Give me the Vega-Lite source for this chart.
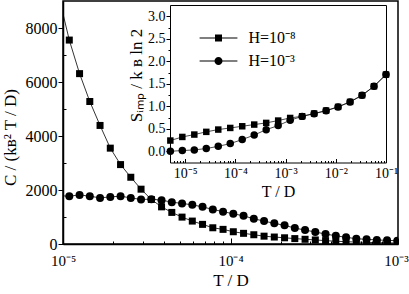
{
  "$schema": "https://vega.github.io/schema/vega-lite/v6.json",
  "width": 335,
  "height": 243,
  "autosize": "none",
  "padding": {"left": 63, "top": 1, "right": 11, "bottom": 50},
  "config": {
    "font": "Liberation Serif",
    "view": {"stroke": "black", "strokeWidth": 1.5},
    "axis": {"grid": false, "domainColor": "black", "tickColor": "black", "labelColor": "black", "titleColor": "black", "titleFontWeight": "normal", "labelOverlap": false, "labelFlush": false, "labelBound": false, "labelFont": "Liberation Serif", "titleFont": "Liberation Serif"},
    "legend": {"labelFont": "Liberation Serif"}
  },
  "datasets": {
    "main": [
      {"T": 9.471e-6, "C": 9136, "H": "H=10⁻⁸"},
      {"T": 1.0904e-5, "C": 7553, "H": "H=10⁻⁸"},
      {"T": 1.2557e-5, "C": 6310, "H": "H=10⁻⁸"},
      {"T": 1.4454e-5, "C": 5277, "H": "H=10⁻⁸"},
      {"T": 1.6641e-5, "C": 4391, "H": "H=10⁻⁸"},
      {"T": 1.9159e-5, "C": 3550, "H": "H=10⁻⁸"},
      {"T": 2.2058e-5, "C": 2941, "H": "H=10⁻⁸"},
      {"T": 2.5396e-5, "C": 2472, "H": "H=10⁻⁸"},
      {"T": 2.924e-5, "C": 2030, "H": "H=10⁻⁸"},
      {"T": 3.3664e-5, "C": 1649, "H": "H=10⁻⁸"},
      {"T": 3.8758e-5, "C": 1376, "H": "H=10⁻⁸"},
      {"T": 4.4619e-5, "C": 1170, "H": "H=10⁻⁸"},
      {"T": 5.1372e-5, "C": 996, "H": "H=10⁻⁸"},
      {"T": 5.9147e-5, "C": 849, "H": "H=10⁻⁸"},
      {"T": 6.8098e-5, "C": 727, "H": "H=10⁻⁸"},
      {"T": 7.8404e-5, "C": 601, "H": "H=10⁻⁸"},
      {"T": 9.027e-5, "C": 542, "H": "H=10⁻⁸"},
      {"T": 1.0393e-4, "C": 454, "H": "H=10⁻⁸"},
      {"T": 1.1966e-4, "C": 395, "H": "H=10⁻⁸"},
      {"T": 1.3777e-4, "C": 343, "H": "H=10⁻⁸"},
      {"T": 1.5862e-4, "C": 290, "H": "H=10⁻⁸"},
      {"T": 1.8262e-4, "C": 258, "H": "H=10⁻⁸"},
      {"T": 2.1026e-4, "C": 230, "H": "H=10⁻⁸"},
      {"T": 2.4208e-4, "C": 200, "H": "H=10⁻⁸"},
      {"T": 2.7872e-4, "C": 175, "H": "H=10⁻⁸"},
      {"T": 3.209e-4, "C": 150, "H": "H=10⁻⁸"},
      {"T": 3.6946e-4, "C": 125, "H": "H=10⁻⁸"},
      {"T": 4.2537e-4, "C": 103, "H": "H=10⁻⁸"},
      {"T": 4.8975e-4, "C": 85, "H": "H=10⁻⁸"},
      {"T": 5.6387e-4, "C": 72, "H": "H=10⁻⁸"},
      {"T": 6.492e-4, "C": 60, "H": "H=10⁻⁸"},
      {"T": 7.4745e-4, "C": 50, "H": "H=10⁻⁸"},
      {"T": 8.6058e-4, "C": 42, "H": "H=10⁻⁸"},
      {"T": 9.9038e-4, "C": 36, "H": "H=10⁻⁸"},
      {"T": 9.471e-6, "C": 1790, "H": "H=10⁻³"},
      {"T": 1.0904e-5, "C": 1771, "H": "H=10⁻³"},
      {"T": 1.2557e-5, "C": 1819, "H": "H=10⁻³"},
      {"T": 1.4454e-5, "C": 1771, "H": "H=10⁻³"},
      {"T": 1.6641e-5, "C": 1708, "H": "H=10⁻³"},
      {"T": 1.9159e-5, "C": 1745, "H": "H=10⁻³"},
      {"T": 2.2058e-5, "C": 1771, "H": "H=10⁻³"},
      {"T": 2.5396e-5, "C": 1708, "H": "H=10⁻³"},
      {"T": 2.924e-5, "C": 1649, "H": "H=10⁻³"},
      {"T": 3.3664e-5, "C": 1661, "H": "H=10⁻³"},
      {"T": 3.8758e-5, "C": 1624, "H": "H=10⁻³"},
      {"T": 4.4619e-5, "C": 1550, "H": "H=10⁻³"},
      {"T": 5.1372e-5, "C": 1502, "H": "H=10⁻³"},
      {"T": 5.9147e-5, "C": 1450, "H": "H=10⁻³"},
      {"T": 6.8098e-5, "C": 1376, "H": "H=10⁻³"},
      {"T": 7.8404e-5, "C": 1280, "H": "H=10⁻³"},
      {"T": 9.027e-5, "C": 1199, "H": "H=10⁻³"},
      {"T": 1.0393e-4, "C": 1118, "H": "H=10⁻³"},
      {"T": 1.1966e-4, "C": 1044, "H": "H=10⁻³"},
      {"T": 1.3777e-4, "C": 934, "H": "H=10⁻³"},
      {"T": 1.5862e-4, "C": 849, "H": "H=10⁻³"},
      {"T": 1.8262e-4, "C": 764, "H": "H=10⁻³"},
      {"T": 2.1026e-4, "C": 690, "H": "H=10⁻³"},
      {"T": 2.4208e-4, "C": 590, "H": "H=10⁻³"},
      {"T": 2.7872e-4, "C": 517, "H": "H=10⁻³"},
      {"T": 3.209e-4, "C": 443, "H": "H=10⁻³"},
      {"T": 3.6946e-4, "C": 369, "H": "H=10⁻³"},
      {"T": 4.2537e-4, "C": 306, "H": "H=10⁻³"},
      {"T": 4.8975e-4, "C": 247, "H": "H=10⁻³"},
      {"T": 5.6387e-4, "C": 196, "H": "H=10⁻³"},
      {"T": 6.492e-4, "C": 173, "H": "H=10⁻³"},
      {"T": 7.4745e-4, "C": 150, "H": "H=10⁻³"},
      {"T": 8.6058e-4, "C": 135, "H": "H=10⁻³"},
      {"T": 9.9038e-4, "C": 122, "H": "H=10⁻³"}
    ],
    "inset": [
      {"T": 5.0805e-6, "S": 0.238, "H": "H=10⁻⁸"},
      {"T": 8.7998e-6, "S": 0.318, "H": "H=10⁻⁸"},
      {"T": 1.5242e-5, "S": 0.371, "H": "H=10⁻⁸"},
      {"T": 2.6399e-5, "S": 0.431, "H": "H=10⁻⁸"},
      {"T": 4.5725e-5, "S": 0.482, "H": "H=10⁻⁸"},
      {"T": 7.9196e-5, "S": 0.518, "H": "H=10⁻⁸"},
      {"T": 1.3717e-4, "S": 0.555, "H": "H=10⁻⁸"},
      {"T": 2.3757e-4, "S": 0.593, "H": "H=10⁻⁸"},
      {"T": 4.115e-4, "S": 0.63, "H": "H=10⁻⁸"},
      {"T": 7.128e-4, "S": 0.682, "H": "H=10⁻⁸"},
      {"T": 1.2346e-3, "S": 0.74, "H": "H=10⁻⁸"},
      {"T": 2.1383e-3, "S": 0.778, "H": "H=10⁻⁸"},
      {"T": 3.7037e-3, "S": 0.838, "H": "H=10⁻⁸"},
      {"T": 6.415e-3, "S": 0.904, "H": "H=10⁻⁸"},
      {"T": 1.1111e-2, "S": 0.986, "H": "H=10⁻⁸"},
      {"T": 1.9245e-2, "S": 1.097, "H": "H=10⁻⁸"},
      {"T": 3.3333e-2, "S": 1.244, "H": "H=10⁻⁸"},
      {"T": 5.7735e-2, "S": 1.444, "H": "H=10⁻⁸"},
      {"T": 0.1, "S": 1.704, "H": "H=10⁻⁸"},
      {"T": 5.0805e-6, "S": 0.0, "H": "H=10⁻³"},
      {"T": 8.7998e-6, "S": 0.015, "H": "H=10⁻³"},
      {"T": 1.5242e-5, "S": 0.03, "H": "H=10⁻³"},
      {"T": 2.6399e-5, "S": 0.06, "H": "H=10⁻³"},
      {"T": 4.5725e-5, "S": 0.11, "H": "H=10⁻³"},
      {"T": 7.9196e-5, "S": 0.17, "H": "H=10⁻³"},
      {"T": 1.3717e-4, "S": 0.26, "H": "H=10⁻³"},
      {"T": 2.3757e-4, "S": 0.36, "H": "H=10⁻³"},
      {"T": 4.115e-4, "S": 0.48, "H": "H=10⁻³"},
      {"T": 7.128e-4, "S": 0.57, "H": "H=10⁻³"},
      {"T": 1.2346e-3, "S": 0.69, "H": "H=10⁻³"},
      {"T": 2.1383e-3, "S": 0.775, "H": "H=10⁻³"},
      {"T": 3.7037e-3, "S": 0.835, "H": "H=10⁻³"},
      {"T": 6.415e-3, "S": 0.9, "H": "H=10⁻³"},
      {"T": 1.1111e-2, "S": 0.985, "H": "H=10⁻³"},
      {"T": 1.9245e-2, "S": 1.097, "H": "H=10⁻³"},
      {"T": 3.3333e-2, "S": 1.244, "H": "H=10⁻³"},
      {"T": 5.7735e-2, "S": 1.444, "H": "H=10⁻³"},
      {"T": 0.1, "S": 1.704, "H": "H=10⁻³"}
    ]
  },
  "layer": [
    {
      "data": {"name": "main"},
      "mark": {"type": "line", "clip": true, "color": "black", "strokeWidth": 0.8},
      "encoding": {
        "x": {
          "field": "T", "type": "quantitative",
          "scale": {"type": "log", "domain": [1e-5, 1e-3], "nice": false},
          "axis": {
            "orient": "bottom",
            "values": [1e-5, 2e-5, 3e-5, 4e-5, 5e-5, 6e-5, 7e-5, 8e-5, 9e-5, 1e-4, 2e-4, 3e-4, 4e-4, 5e-4, 6e-4, 7e-4, 8e-4, 9e-4, 1e-3],
            "labelExpr": "abs(log(datum.value)/LN10 - round(log(datum.value)/LN10)) < 0.001 ? '10⁻' + ['0','¹','²','³','⁴','⁵','⁶','⁷','⁸','⁹'][-round(log(datum.value)/LN10)] : ''",
            "tickSize": {"condition": {"test": "abs(log(datum.value)/LN10 - round(log(datum.value)/LN10)) < 0.001", "value": -6}, "value": -3},
            "labelOffset": {"condition": {"test": "datum.value > 5e-4", "value": -2}, "value": 0},
            "labelPadding": 15, "labelFontSize": 15,
            "title": "T / D", "titleFontSize": 17, "titlePadding": 1,
            "domainWidth": 1.5, "tickWidth": 1
          }
        },
        "y": {
          "field": "C", "type": "quantitative",
          "scale": {"domain": [0, 9000], "nice": false, "zero": false},
          "axis": {
            "orient": "left",
            "values": [0, 1000, 2000, 3000, 4000, 5000, 6000, 7000, 8000],
            "labelExpr": "datum.value % 2000 === 0 ? format(datum.value, 'd') : ''",
            "tickSize": {"condition": {"test": "datum.value % 2000 === 0", "value": 5}, "value": -3},
            "labelPadding": 1, "labelFontSize": 16,
            "title": "C / (kʙ² T / D)", "titleFontSize": 17, "titlePadding": 6, "titleY": 136,
            "domainWidth": 1.5, "tickWidth": 1
          }
        },
        "detail": {"field": "H"}
      }
    },
    {
      "data": {"name": "main"},
      "mark": {"type": "point", "filled": true, "clip": true, "color": "black", "opacity": 1},
      "encoding": {
        "x": {"field": "T", "type": "quantitative", "scale": {"type": "log", "domain": [1e-5, 1e-3], "nice": false}, "axis": null},
        "y": {"field": "C", "type": "quantitative", "scale": {"domain": [0, 9000], "nice": false, "zero": false}, "axis": null},
        "shape": {"field": "H", "type": "nominal", "scale": {"domain": ["H=10⁻⁸", "H=10⁻³"], "range": ["square", "circle"]}, "legend": null},
        "size": {"field": "H", "type": "nominal", "scale": {"domain": ["H=10⁻⁸", "H=10⁻³"], "range": [49, 64]}, "legend": null}
      }
    },
    {
      "data": {"name": "inset"},
      "mark": {"type": "line", "clip": true, "color": "black", "strokeWidth": 0.7},
      "encoding": {
        "x": {
          "field": "T", "type": "quantitative",
          "scale": {"type": "log", "domain": [5e-6, 0.1], "range": [107, 323], "nice": false},
          "axis": {
            "orient": "bottom", "offset": -81.5,
            "values": [5e-6, 6e-6, 7e-6, 8e-6, 9e-6, 1e-5, 2e-5, 3e-5, 4e-5, 5e-5, 6e-5, 7e-5, 8e-5, 9e-5, 1e-4, 2e-4, 3e-4, 4e-4, 5e-4, 6e-4, 7e-4, 8e-4, 9e-4, 1e-3, 2e-3, 3e-3, 4e-3, 5e-3, 6e-3, 7e-3, 8e-3, 9e-3, 1e-2, 2e-2, 3e-2, 4e-2, 5e-2, 6e-2, 7e-2, 8e-2, 9e-2, 0.1],
            "labelExpr": "abs(log(datum.value)/LN10 - round(log(datum.value)/LN10)) < 0.001 ? '10⁻' + ['0','¹','²','³','⁴','⁵','⁶','⁷','⁸','⁹'][-round(log(datum.value)/LN10)] : ''",
            "tickSize": {"condition": {"test": "abs(log(datum.value)/LN10 - round(log(datum.value)/LN10)) < 0.001", "value": -4}, "value": -2},
            "labelPadding": 8, "labelFontSize": 14,
            "title": "T / D", "titleFontSize": 16, "titlePadding": 1,
            "domainWidth": 1, "tickWidth": 1
          }
        },
        "y": {
          "field": "S", "type": "quantitative",
          "scale": {"domain": [-0.25, 3.25], "range": [161.5, 4], "nice": false, "zero": false},
          "axis": {
            "orient": "left", "offset": -107,
            "values": [0, 0.25, 0.5, 0.75, 1, 1.25, 1.5, 1.75, 2, 2.25, 2.5, 2.75, 3],
            "labelExpr": "abs(datum.value*2 - round(datum.value*2)) < 0.01 ? format(datum.value, '.1f') : ''",
            "tickSize": {"condition": {"test": "abs(datum.value*2 - round(datum.value*2)) < 0.01", "value": 4}, "value": 2},
            "labelPadding": 1, "labelFontSize": 14,
            "title": "Sᵢₘₚ / k ʙ ln 2", "titleFontSize": 17, "titlePadding": 2, "titleY": 74,
            "domainWidth": 1, "tickWidth": 1
          }
        },
        "detail": {"field": "H"}
      }
    },
    {
      "data": {"name": "inset"},
      "mark": {"type": "point", "filled": true, "clip": true, "color": "black", "opacity": 1},
      "encoding": {
        "x": {"field": "T", "type": "quantitative", "scale": {"type": "log", "domain": [5e-6, 0.1], "range": [107, 323], "nice": false}, "axis": null},
        "y": {"field": "S", "type": "quantitative", "scale": {"domain": [-0.25, 3.25], "range": [161.5, 4], "nice": false, "zero": false}, "axis": null},
        "shape": {"field": "H", "type": "nominal", "scale": {"domain": ["H=10⁻⁸", "H=10⁻³"], "range": ["square", "circle"]}, "legend": null},
        "size": {"field": "H", "type": "nominal", "scale": {"domain": ["H=10⁻⁸", "H=10⁻³"], "range": [42, 56]}, "legend": null}
      }
    },
    {
      "data": {"name": "inset"},
      "mark": {"type": "point", "opacity": 0},
      "encoding": {
        "x": {"field": "T", "type": "quantitative", "scale": {"type": "log", "domain": [5e-6, 0.1], "range": [107, 323], "nice": false},
              "axis": {"orient": "top", "offset": -4, "labels": false, "ticks": false, "title": null, "domainWidth": 1}},
        "y": {"field": "S", "type": "quantitative", "scale": {"domain": [-0.25, 3.25], "range": [161.5, 4], "nice": false, "zero": false},
              "axis": {"orient": "right", "offset": -12, "labels": false, "ticks": false, "title": null, "domainWidth": 1}}
      }
    },
    {
      "data": {"name": "inset"},
      "transform": [{"filter": "false"}],
      "mark": {"type": "point", "filled": true, "fill": "black", "stroke": "black", "strokeWidth": 0.8, "size": 49, "opacity": 1},
      "encoding": {
        "shape": {
          "field": "H", "type": "nominal",
          "scale": {"domain": ["H=10⁻⁸", "H=10⁻³"], "range": ["M-5.4,-0.12H5.4V0.12H-5.4ZM-1,-1H1V1H-1Z", "M-5.4,-0.12H5.4V0.12H-5.4ZM-1.15,0A1.15,1.15,0,1,1,1.15,0A1.15,1.15,0,1,1,-1.15,0Z"]},
          "legend": {
            "title": null, "orient": "none", "legendX": 147.5, "legendY": 29,
            "labelFontSize": 16, "labelOffset": 22, "rowPadding": 7, "padding": 0,
            "symbolStrokeWidth": 0.8, "symbolFillColor": "black", "symbolStrokeColor": "black", "symbolSize": 49
          }
        }
      }
    }
  ],
  "resolve": {
    "scale": {"x": "independent", "y": "independent", "size": "independent", "shape": "independent"},
    "legend": {"shape": "independent"}
  }
}
